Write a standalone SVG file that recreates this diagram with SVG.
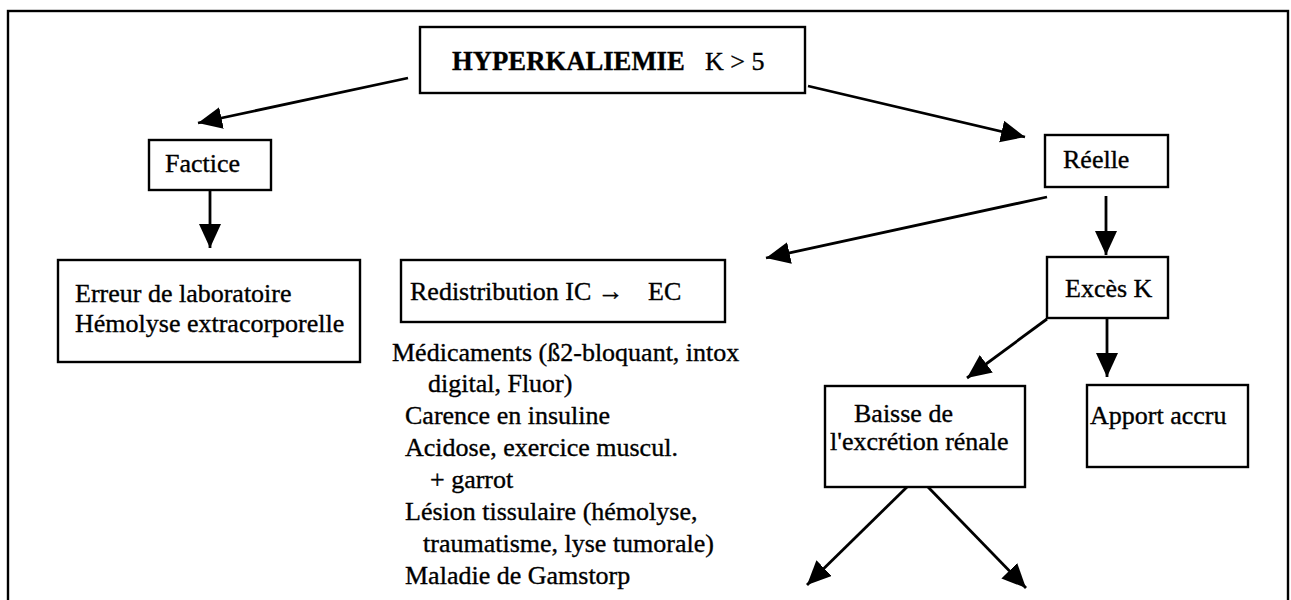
<svg xmlns="http://www.w3.org/2000/svg" width="1291" height="600" viewBox="0 0 1291 600">
<style>
  .box { fill: #fff; stroke: #000; stroke-width: 2.4; }
  .t { font-family: 'Liberation Serif', Tinos, 'DejaVu Serif', 'Noto Serif', serif; font-size: 26px; fill: #000; stroke: #000; stroke-width: 0.35; }
  .b { font-weight: bold; font-size: 26.7px; }
  .edge { stroke: #000; stroke-width: 2.8; fill: none; marker-end: url(#ah); }
</style>
<defs>
  <marker id="ah" markerUnits="userSpaceOnUse" markerWidth="26" markerHeight="24" refX="24" refY="11" orient="auto">
    <path d="M0,0 L24,11 L0,22 Z" fill="#000"/>
  </marker>
</defs>
<rect width="1291" height="600" fill="#fff"/>
<rect x="8" y="11" width="1280" height="620" fill="none" stroke="#000" stroke-width="2.4"/>

<g id="connectors">
  <line class="edge" x1="408" y1="78" x2="198" y2="123"/>
  <line class="edge" x1="808" y1="86" x2="1025" y2="137"/>
  <line class="edge" x1="210" y1="190" x2="210" y2="248"/>
  <line class="edge" x1="1047" y1="197" x2="766" y2="258"/>
  <line class="edge" x1="1106" y1="196" x2="1106" y2="255"/>
  <line class="edge" x1="1047" y1="319" x2="967" y2="378"/>
  <line class="edge" x1="1107" y1="318" x2="1107" y2="377"/>
  <line class="edge" x1="907" y1="487" x2="807" y2="585"/>
  <line class="edge" x1="928" y1="487" x2="1026" y2="588"/>
</g>

<g id="hyperkaliemie">
  <rect class="box" x="420" y="27" width="385" height="66"/>
  <text class="t" x="452" y="70"><tspan class="b">HYPERKALIEMIE</tspan><tspan x="705">K &gt; 5</tspan></text>
</g>

<g id="factice">
  <rect class="box" x="149" y="140" width="122" height="50"/>
  <text class="t" x="165" y="172">Factice</text>
</g>

<g id="reelle">
  <rect class="box" x="1045" y="135" width="123" height="52"/>
  <text class="t" x="1063" y="168">Réelle</text>
</g>

<g id="erreur">
  <rect class="box" x="58" y="260" width="302" height="102"/>
  <text class="t" x="75" y="302">Erreur de laboratoire</text>
  <text class="t" x="75" y="332">Hémolyse extracorporelle</text>
</g>

<g id="redistribution">
  <rect class="box" x="401" y="260" width="324" height="62"/>
  <text class="t" x="410" y="300">Redistribution IC →<tspan x="648">EC</tspan></text>
</g>

<g id="causes-redistribution">
  <text class="t" x="392" y="361">Médicaments (ß2-bloquant, intox</text>
  <text class="t" x="428" y="392">digital, Fluor)</text>
  <text class="t" x="405" y="424">Carence en insuline</text>
  <text class="t" x="405" y="456">Acidose, exercice muscul.</text>
  <text class="t" x="430" y="488">+ garrot</text>
  <text class="t" x="405" y="520">Lésion tissulaire (hémolyse,</text>
  <text class="t" x="423" y="552">traumatisme, lyse tumorale)</text>
  <text class="t" x="405" y="584">Maladie de Gamstorp</text>
</g>

<g id="exces-k">
  <rect class="box" x="1047" y="257" width="121" height="61"/>
  <text class="t" x="1065" y="297">Excès K</text>
</g>

<g id="baisse">
  <rect class="box" x="825" y="386" width="200" height="101"/>
  <text class="t" x="854" y="422">Baisse de</text>
  <text class="t" x="830" y="450">l'excrétion rénale</text>
</g>

<g id="apport">
  <rect class="box" x="1087" y="385" width="161" height="82"/>
  <text class="t" x="1090" y="424">Apport accru</text>
</g>
</svg>
